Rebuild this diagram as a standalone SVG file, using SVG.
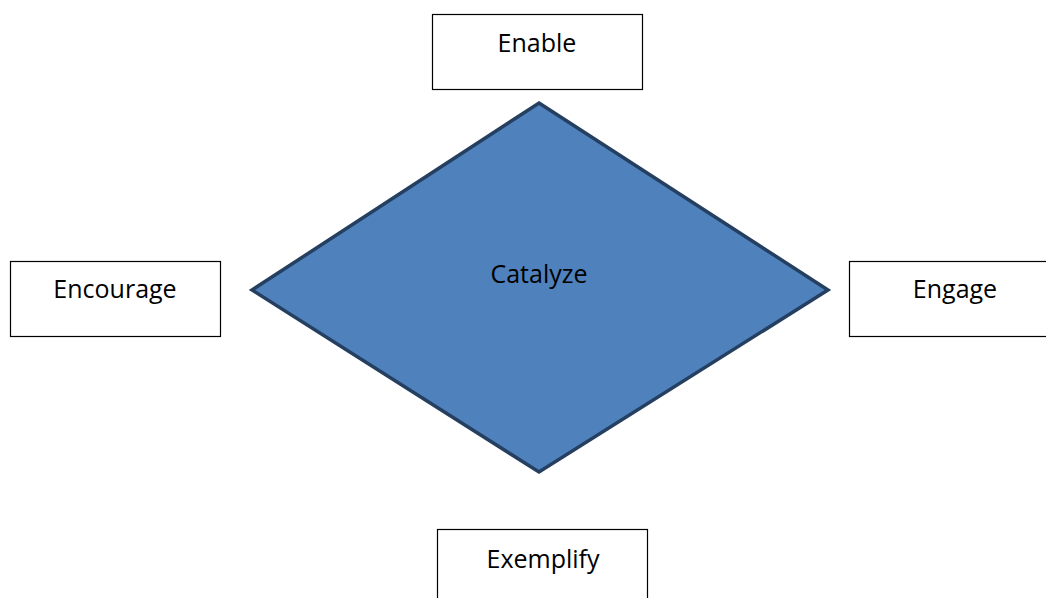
<svg xmlns="http://www.w3.org/2000/svg" width="1046" height="598" viewBox="0 0 1046 598">
  <style>
    .box { fill: #ffffff; stroke: #000000; stroke-width: 1.2; }
    .diamond { fill: #4f81bd; stroke: #243f60; stroke-width: 3.5; stroke-linejoin: miter; }
    .label { font-family: "Open Sans", "Liberation Sans", sans-serif; font-size: 25px; fill: #000000; text-anchor: middle; }
  </style>
  <rect width="1046" height="598" fill="#ffffff"/>
  <g id="connectors"></g>
  <g id="catalyze">
    <polygon class="diamond" points="539,103 828,290 539,472 252,290"/>
    <text class="label" x="539" y="283">Catalyze</text>
  </g>
  <g id="enable">
    <rect class="box" x="432.5" y="14.5" width="210" height="75"/>
    <text class="label" x="537" y="52">Enable</text>
  </g>
  <g id="encourage">
    <rect class="box" x="10.5" y="261.5" width="210" height="75"/>
    <text class="label" x="115" y="298">Encourage</text>
  </g>
  <g id="engage">
    <rect class="box" x="849.5" y="261.5" width="210" height="75"/>
    <text class="label" x="955" y="298">Engage</text>
  </g>
  <g id="exemplify">
    <rect class="box" x="437.5" y="529.5" width="210" height="75"/>
    <text class="label" x="543" y="568">Exemplify</text>
  </g>
</svg>
